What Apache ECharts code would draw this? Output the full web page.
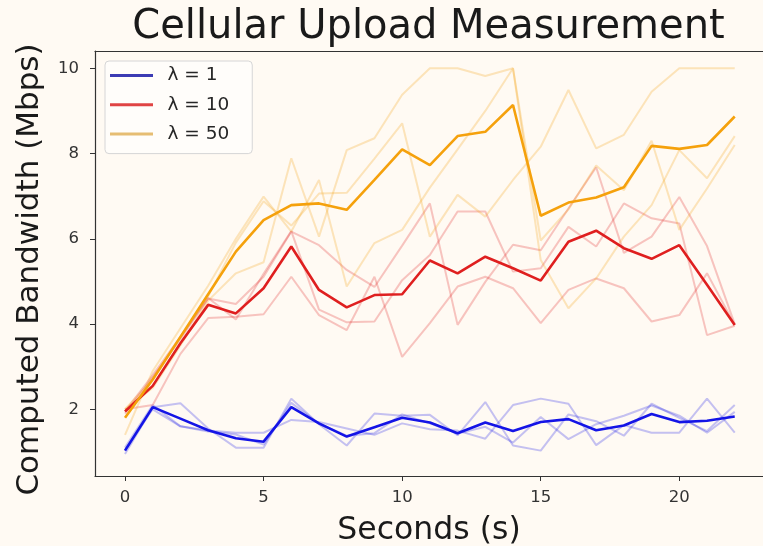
<!DOCTYPE html>
<html>
<head>
<meta charset="utf-8">
<script src="https://cdn.jsdelivr.net/npm/echarts@6/dist/echarts.min.js"></script>
<style>
  html, body { margin: 0; padding: 0; background: #fffaf3; }
  #chart { width: 763px; height: 546px; }
</style>
</head>
<body>
<div id="chart"></div>
<script>
const seconds = [0,1,2,3,4,5,6,7,8,9,10,11,12,13,14,15,16,17,18,19,20,21,22];
const xTicks = [0, 5, 10, 15, 20];
const yTicks = [2, 4, 6, 8, 10];

const blueMain = [1.03, 2.05, 1.78, 1.51, 1.32, 1.24, 2.05, 1.67, 1.36, 1.58, 1.80, 1.69, 1.44, 1.69, 1.49, 1.70, 1.77, 1.51, 1.62, 1.89, 1.70, 1.73, 1.83];
const blueRun1 = [0.95, 2.05, 2.14, 1.55, 1.10, 1.10, 2.25, 1.65, 1.15, 1.90, 1.85, 1.87, 1.39, 2.17, 1.15, 1.03, 1.88, 1.72, 1.38, 2.13, 1.80, 1.49, 2.10];
const blueRun2 = [1.05, 2.00, 1.60, 1.50, 1.45, 1.45, 1.75, 1.70, 1.55, 1.40, 1.67, 1.53, 1.50, 1.31, 2.10, 2.25, 2.13, 1.16, 1.63, 1.45, 1.45, 2.25, 1.45];
const blueRun3 = [1.10, 2.10, 1.60, 1.48, 1.41, 1.17, 2.15, 1.66, 1.38, 1.44, 1.88, 1.67, 1.43, 1.59, 1.22, 1.82, 1.30, 1.65, 1.85, 2.09, 1.85, 1.45, 1.94];

const redMain = [1.95, 2.55, 3.55, 4.45, 4.25, 4.84, 5.82, 4.80, 4.39, 4.68, 4.70, 5.49, 5.19, 5.58, 5.31, 5.02, 5.93, 6.19, 5.78, 5.53, 5.85, 4.92, 3.98];
const redRun1 = [1.90, 2.75, 3.65, 4.60, 4.47, 5.11, 6.17, 5.85, 5.27, 4.87, 5.84, 6.83, 3.98, 4.99, 5.86, 5.73, 6.71, 7.68, 5.67, 6.05, 6.98, 5.83, 4.00];
const redRun2 = [2.00, 2.10, 3.30, 4.14, 4.17, 4.23, 5.11, 4.21, 3.86, 5.11, 3.23, 4.02, 4.88, 5.11, 4.84, 4.02, 4.80, 5.07, 4.84, 4.06, 4.21, 5.19, 3.98];
const redRun3 = [1.95, 2.80, 3.70, 4.61, 4.11, 5.18, 6.18, 4.34, 4.04, 4.06, 5.03, 5.62, 6.64, 6.64, 5.23, 5.31, 6.28, 5.82, 6.83, 6.48, 6.36, 3.74, 3.96];

const orangeMain = [1.80, 2.70, 3.70, 4.70, 5.70, 6.44, 6.79, 6.83, 6.68, 7.38, 8.10, 7.73, 8.41, 8.51, 9.14, 6.54, 6.85, 6.97, 7.21, 8.18, 8.11, 8.20, 8.87];
const orangeRun1 = [2.00, 2.50, 3.50, 4.55, 5.19, 5.45, 7.89, 6.05, 8.08, 8.36, 9.38, 10.0, 10.0, 9.82, 10.0, 5.50, 4.37, 5.07, 6.05, 6.79, 8.08, 7.42, 8.41];
const orangeRun2 = [1.40, 2.90, 3.90, 4.90, 6.00, 6.99, 6.17, 7.38, 4.88, 5.90, 6.21, 7.20, 8.10, 9.00, 10.0, 5.96, 6.69, 7.72, 7.14, 8.30, 6.21, 7.18, 8.20];
const orangeRun3 = [2.00, 2.70, 3.70, 4.65, 5.91, 6.88, 6.31, 7.06, 7.08, 7.88, 8.71, 6.05, 7.03, 6.52, 7.38, 8.16, 9.49, 8.12, 8.44, 9.45, 10.0, 10.0, 10.0];

const names = ['λ = 1', 'λ = 10', 'λ = 50'];
const mainColors = ['#1414e6', '#df1f1f', '#f5a10c'];
const legendColors = ['#3c3cb4', '#e04444', '#e6bd72'];

const FONT = 'DejaVu Sans';
const pair = arr => arr.map((v, i) => [seconds[i], v]);

function faint(name, arr, color) {
  return {
    name: name, type: 'line', data: pair(arr), showSymbol: false, silent: true,
    lineStyle: { color: color, width: 2, opacity: 0.25 }, z: 2
  };
}
function main(name, arr, color) {
  return {
    name: name, type: 'line', data: pair(arr), showSymbol: false,
    lineStyle: { color: color, width: 2.6 }, itemStyle: { color: color }, z: 5
  };
}

const series = [
  faint('b1', blueRun1, mainColors[0]), faint('b2', blueRun2, mainColors[0]), faint('b3', blueRun3, mainColors[0]),
  faint('r1', redRun1, mainColors[1]), faint('r2', redRun2, mainColors[1]), faint('r3', redRun3, mainColors[1]),
  faint('o1', orangeRun1, mainColors[2]), faint('o2', orangeRun2, mainColors[2]), faint('o3', orangeRun3, mainColors[2]),
  main(names[0], blueMain, mainColors[0]),
  main(names[1], redMain, mainColors[1]),
  main(names[2], orangeMain, mainColors[2])
];

const chart = echarts.init(document.getElementById('chart'), null, { renderer: 'canvas' });
const xMin = -1.0825, xMax = 23.02, yMin = 0.435, yMax = 10.406;
chart.setOption({
  backgroundColor: '#fffaf3',
  animation: false,
  textStyle: { fontFamily: FONT },
  graphic: [{
    type: 'text', x: 428.5, y: 28,
    style: { text: 'Cellular Upload Measurement', fontFamily: FONT, fontSize: 40,
             fill: '#1a1a1a', align: 'center', verticalAlign: 'middle' }
  }],
  grid: { left: 95, top: 51, right: 0, bottom: 70, containLabel: false, outerBoundsMode: 'none' },
  legend: {
    orient: 'vertical', left: 105, top: 61,
    data: names.map((n, i) => ({ name: n, itemStyle: { color: legendColors[i] } })),
    icon: 'rect', itemWidth: 43, itemHeight: 3, itemGap: 8.3,
    padding: [4, 23, 9, 5],
    backgroundColor: '#fffdfa', borderColor: '#d6d6d6', borderWidth: 1, borderRadius: 4,
    textStyle: { fontFamily: FONT, fontSize: 18.5, color: '#262626', lineHeight: 21, padding: [0, 0, 0, 9.5] }
  },
  xAxis: [{
    type: 'value', min: xMin, max: xMax, position: 'bottom',
    name: 'Seconds (s)', nameLocation: 'middle', nameGap: 39,
    nameTextStyle: { fontFamily: FONT, fontSize: 31.5, color: '#1a1a1a' },
    splitLine: { show: false },
    axisLine: { show: true, onZero: false, lineStyle: { color: '#333', width: 1.2 } },
    axisTick: { show: true, length: 5, customValues: xTicks, lineStyle: { color: '#333' } },
    axisLabel: { customValues: xTicks, margin: 13.5, fontFamily: FONT, fontSize: 16.5, color: '#333' }
  }, {
    type: 'value', min: xMin, max: xMax, position: 'top',
    splitLine: { show: false },
    axisLine: { show: true, onZero: false, lineStyle: { color: '#333', width: 1.2 } },
    axisTick: { show: false }, axisLabel: { show: false }
  }],
  yAxis: {
    type: 'value', min: yMin, max: yMax,
    name: 'Computed Bandwidth (Mbps)', nameLocation: 'middle', nameGap: 50,
    nameTextStyle: { fontFamily: FONT, fontSize: 31, color: '#1a1a1a', padding: [0, 12, 0, 0] },
    splitLine: { show: false },
    axisLine: { show: true, onZero: false, lineStyle: { color: '#333', width: 1.2 } },
    axisTick: { show: true, length: 5, customValues: yTicks, lineStyle: { color: '#333' } },
    axisLabel: { customValues: yTicks, margin: 16, fontFamily: FONT, fontSize: 16.5, color: '#333' }
  },
  series: series
});
</script>
</body>
</html>
